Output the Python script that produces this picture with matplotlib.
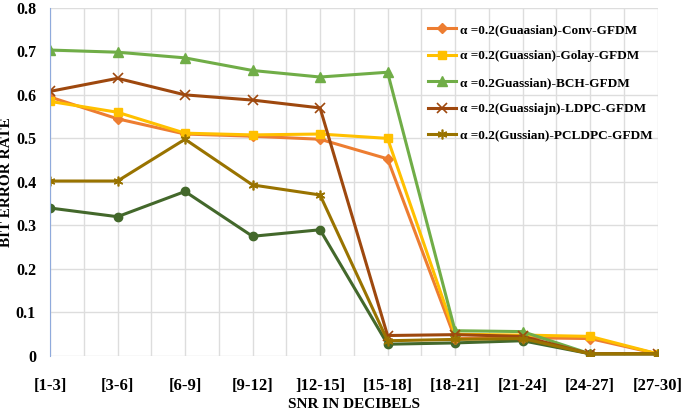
import matplotlib
matplotlib.use("Agg")
import matplotlib.pyplot as plt
import numpy as np

# SNR bins (x categories)
snr = ['[1-3]', '[3-6]', '[6-9]', '[9-12]', ']12-15]', '[15-18]',
       '[18-21]', '[21-24]', '[24-27]', '[27-30]']

# BER values
conv   = [0.595, 0.545, 0.510, 0.505, 0.498, 0.453, 0.040, 0.042, 0.040, 0.005]
golay  = [0.585, 0.560, 0.512, 0.508, 0.510, 0.500, 0.050, 0.048, 0.045, 0.005]
bch    = [0.703, 0.698, 0.685, 0.656, 0.641, 0.652, 0.058, 0.056, 0.005, 0.005]
ldpc   = [0.608, 0.638, 0.600, 0.588, 0.570, 0.047, 0.049, 0.045, 0.005, 0.005]
pcldpc = [0.402, 0.402, 0.498, 0.393, 0.370, 0.035, 0.038, 0.040, 0.005, 0.005]
other  = [0.340, 0.320, 0.378, 0.275, 0.290, 0.027, 0.030, 0.035, 0.005, 0.005]

labels = ['α =0.2(Guaasian)-Conv-GFDM',
          'α =0.2(Guassian)-Golay-GFDM',
          'α =0.2Guassian)-BCH-GFDM',
          'α =0.2(Guassiajn)-LDPC-GFDM',
          'α =0.2(Gussian)-PCLDPC-GFDM']

plt.rcParams['font.family'] = ['Liberation Serif', 'DejaVu Serif']
plt.rcParams['font.weight'] = 'bold'

fig = plt.figure(figsize=(6.85, 4.12), dpi=100)
ax = fig.add_axes([0.073, 0.136, 0.887, 0.845])

x = np.arange(len(snr))

# unlabelled dark green series drawn first (sits underneath)
ax.plot(x, other, color='#43682B', marker='o', markersize=6, lw=2.2)
ax.plot(x, conv, color='#ED7D31', marker='D', markersize=5, lw=2.2, label=labels[0])
ax.plot(x, golay, color='#FFC000', marker='s', markersize=6, lw=2.2, label=labels[1])
ax.plot(x, bch, color='#70AD47', marker='^', markersize=7, lw=2.2, label=labels[2])
ax.plot(x, ldpc, color='#9E480E', marker='x', markersize=7, mew=1.2, lw=2.2, label=labels[3])
ax.plot(x, pcldpc, color='#997300', marker=(6, 2, 0), markersize=7, mew=1.2, lw=2.2, label=labels[4])

ax.set_xlim(0, 9)
ax.set_ylim(0, 0.8)
ax.set_yticks(np.arange(0, 0.81, 0.1))
ax.set_yticklabels(['0', '0.1', '0.2', '0.3', '0.4', '0.5', '0.6', '0.7', '0.8'])
ax.set_xticks(x)
ax.set_xticklabels(snr)
ax.set_xticks(np.arange(0.5, 9, 1), minor=True)

ax.grid(True, which='both', color='#DDDDDD', lw=1)
ax.set_axisbelow(True)
for s in ['top', 'right', 'bottom']:
    ax.spines[s].set_visible(False)
ax.spines['left'].set_color('#8FAADC')
ax.tick_params(which='both', length=0)
ax.tick_params(axis='y', labelsize=11.5, pad=10)
ax.tick_params(axis='x', labelsize=12, pad=16)

ax.set_xlabel('SNR IN DECIBELS', fontsize=11, fontweight='bold', labelpad=3)
ax.set_ylabel('BIT ERROR RATE', fontsize=11, fontweight='bold', labelpad=2)

ax.legend(loc='upper left', bbox_to_anchor=(0.622, 0.954), frameon=False,
          prop={'size': 9.5, 'weight': 'bold'}, handlelength=2.1,
          labelspacing=1.07, handletextpad=0.3, borderpad=0, borderaxespad=0)

fig.savefig('out.png', dpi=100)
